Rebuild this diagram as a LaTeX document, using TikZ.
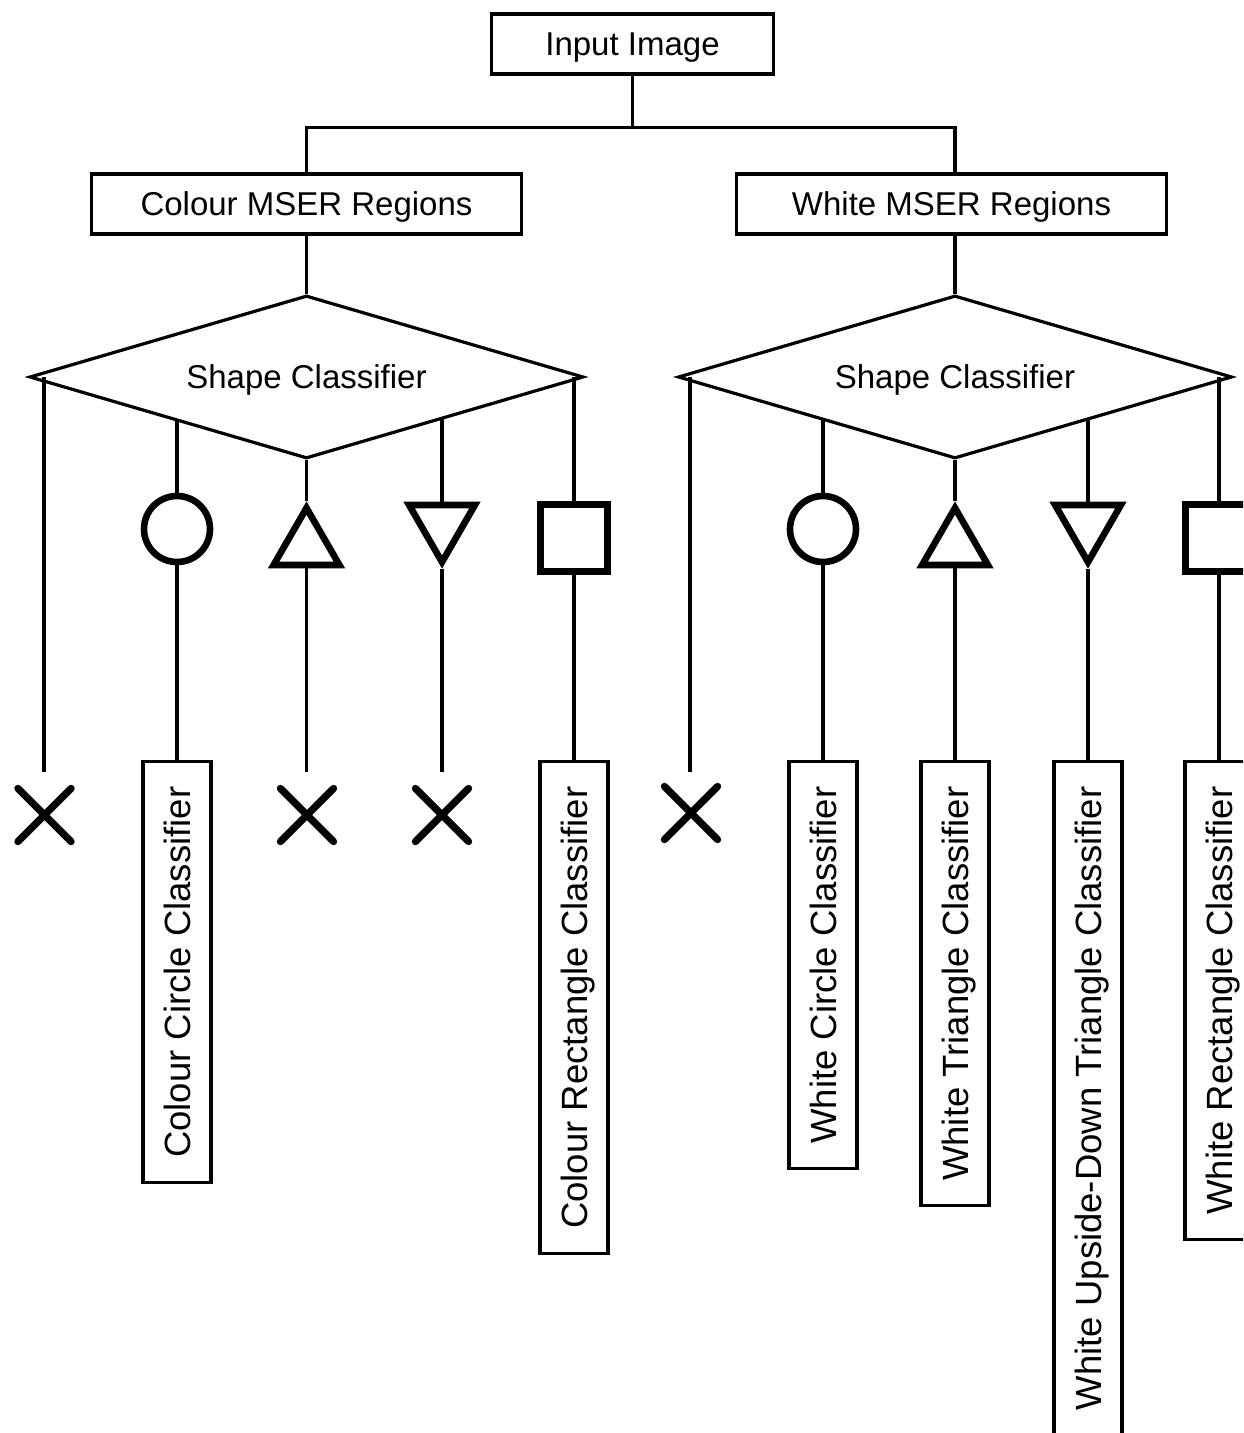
\documentclass[tikz,border=0pt]{standalone}
\usepackage{fontspec}
\setmainfont{Liberation Sans}
\usepackage{tikz}
\usetikzlibrary{calc}
\usetikzlibrary{positioning}
\usetikzlibrary{shapes.geometric}
\usetikzlibrary{shapes.misc}

\begin{document}
\begin{tikzpicture}[x=0.5pt, y=-0.5pt, line width=1.6pt, % MSER shape pipeline
    stage/.style={draw, rectangle, inner sep=0pt, text depth=0pt, minimum height=30pt, font=\fontsize{16.5}{19}\selectfont},
    decide/.style={draw, diamond, aspect=3.4, inner sep=0pt, text depth=0pt, minimum width=277pt, minimum height=81.5pt, font=\fontsize{16.5}{19}\selectfont},
    clsbox/.style={draw, rectangle, rotate=90, anchor=east, inner xsep=12.5pt, inner ysep=0pt, text depth=0pt, minimum height=34pt, font=\fontsize{18.25}{21}\selectfont},
    sym/.style={draw, line width=3.3pt, inner sep=0pt},
    reject/.style={cross out, draw, line width=3.6pt, line cap=round, minimum size=23pt, inner sep=0pt}]

      \path[use as bounding box, clip] (0,0) rectangle (1243,1433);

      \node [stage, minimum width=141pt] (in) at (632.5,44) {Input Image};
      \node [stage, minimum width=215pt] (cm) at (306.5,204) {Colour MSER Regions};
      \node [stage, minimum width=215pt] (wm) at (951.5,204) {White MSER Regions};
      \node [decide] (dl) at (306.5,377) {Shape Classifier};
      \node [decide] (dr) at (955,377) {Shape Classifier};

      \draw (in.south) -- ++(0,52) coordinate (bus);
      \draw (cm.north) |- (bus) -| (dr.north |- wm.north);
      \draw (cm.south) -- (dl.north);
      \draw (dr.north |- wm.south) -- (dr.north);

      % colour side
      \node [sym, circle, minimum size=33pt] (c1) at (177,529) {};
      \node [sym, regular polygon, regular polygon sides=3, minimum size=38pt] (t1) at (306.5,546) {};
      \node [sym, regular polygon, regular polygon sides=3, shape border rotate=180, minimum size=38pt] (v1) at (442,524) {};
      \node [sym, rectangle, minimum size=33.5pt] (s1) at (574,538) {};
      \coordinate (e1) at (44,772);
      \coordinate (e2) at (306.5,772);
      \coordinate (e3) at (442,772);
      \node [reject] (x1) at (44.5,815) {};
      \node [reject] (x2) at (307,815) {};
      \node [reject] (x3) at (442,815) {};
      \node [clsbox] (cc) at (177,760) {Colour Circle Classifier};
      \node [clsbox] (cr) at (574,760) {Colour Rectangle Classifier};

      \draw (e1 |- dl.west) -- (e1);
      \draw (c1.north |- dl.south west) -- (c1.north);
      \draw (dl.south) -- (t1.north);
      \draw (v1.north |- dl.south east) -- (v1.north);
      \draw (s1.north |- dl.east) -- (s1.north);
      \draw (c1.south) -- (cc.east);
      \draw (t1.south) -- (e2);
      \draw (v1.south) -- (e3);
      \draw (s1.south) -- (cr.east);

      % white side
      \node [sym, circle, minimum size=33pt] (c2) at (823,529) {};
      \node [sym, regular polygon, regular polygon sides=3, minimum size=38pt] (t2) at (955,546) {};
      \node [sym, regular polygon, regular polygon sides=3, shape border rotate=180, minimum size=38pt] (v2) at (1088,524) {};
      \node [sym, rectangle, minimum size=33.5pt] (s2) at (1219,538) {};
      \coordinate (e4) at (690,772);
      \node [reject] (x4) at (691,813) {};
      \node [clsbox] (wc) at (823,760) {White Circle Classifier};
      \node [clsbox] (wt) at (955,760) {White Triangle Classifier};
      \node [clsbox] (wu) at (1088,760) {White Upside-Down Triangle Classifier};
      \node [clsbox] (wr) at (1219,760) {White Rectangle Classifier};

      \draw (e4 |- dr.west) -- (e4);
      \draw (c2.north |- dr.south west) -- (c2.north);
      \draw (dr.south) -- (t2.north);
      \draw (v2.north |- dr.south east) -- (v2.north);
      \draw (s2.north |- dr.east) -- (s2.north);
      \draw (c2.south) -- (wc.east);
      \draw (t2.south) -- (wt.east);
      \draw (v2.south) -- (wu.east);
      \draw (s2.south) -- (wr.east);

\end{tikzpicture}
\end{document}
